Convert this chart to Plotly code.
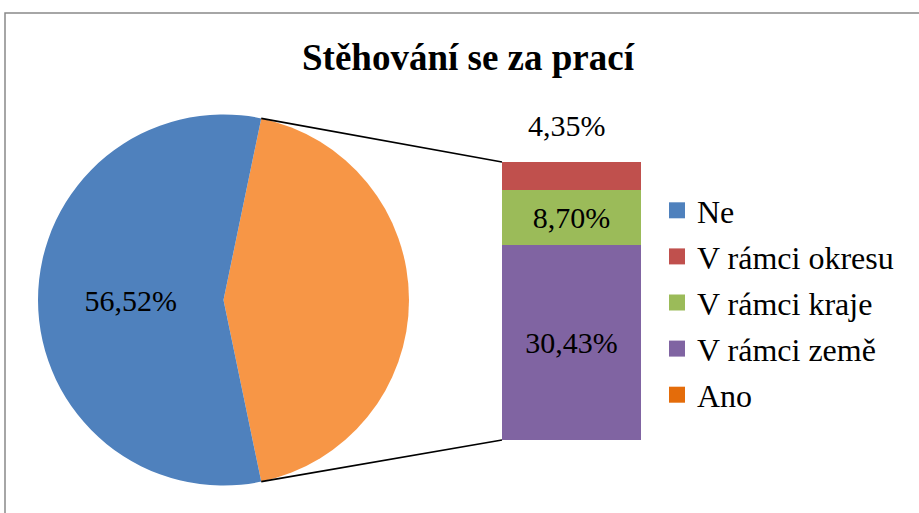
import math
import plotly.graph_objects as go

# ---- data ----
pie_labels = ["Ano", "Ne"]
pie_values = [43.48, 56.52]
bar_labels = ["V rámci země", "V rámci kraje", "V rámci okresu"]
bar_values = [30.43, 8.70, 4.35]
legend_order = ["Ne", "V rámci okresu", "V rámci kraje", "V rámci země", "Ano"]
title_text = "Stěhování se za prací"

pie_colors = {"Ano": "#F79646", "Ne": "#4F81BD"}
bar_colors = {"V rámci země": "#8064A2", "V rámci kraje": "#9BBB59", "V rámci okresu": "#C0504D"}
legend_colors = {"Ne": "#4F81BD", "V rámci okresu": "#C0504D", "V rámci kraje": "#9BBB59",
                 "V rámci země": "#8064A2", "Ano": "#E46C0A"}

def fmt(v):
    return f"{v:.2f}".replace(".", ",") + "%"

W, H = 919, 513
FONT = "Liberation Serif"

def px(x):
    return x / W

def py(y):
    return 1 - y / H

# geometry (pixels)
pie_x0, pie_x1, pie_y0, pie_y1 = 38, 409, 113, 487
bar_x0, bar_x1, bar_top, bar_bot = 502, 641, 162, 440

total = sum(pie_values)
ano = pie_values[0]
ano_deg = 360 * ano / total
rotation = 90 - ano_deg / 2

fig = go.Figure()

fig.add_trace(go.Pie(
    labels=pie_labels, values=pie_values, sort=False, direction="clockwise",
    rotation=rotation,
    marker=dict(colors=[pie_colors[l] for l in pie_labels], line=dict(width=0)),
    text=["", fmt(pie_values[1])], texttemplate="%{text}", textinfo="text",
    textposition="inside", insidetextorientation="horizontal",
    textfont=dict(family=FONT, size=30, color="black"),
    domain=dict(x=[px(pie_x0), px(pie_x1)], y=[py(pie_y1), py(pie_y0)]),
    showlegend=False, hoverinfo="label+percent",
))

for lab, val in zip(bar_labels, bar_values):
    show_text = lab != "V rámci okresu"
    fig.add_trace(go.Bar(
        x=[0], y=[val], name=lab, width=[1],
        marker=dict(color=bar_colors[lab], line=dict(width=0)),
        text=[fmt(val) if show_text else ""], textposition="inside",
        insidetextanchor="middle",
        textfont=dict(family=FONT, size=30, color="black"),
        showlegend=False,
    ))

# top label above bar
fig.add_annotation(x=0, y=sum(bar_values), xref="x", yref="y", text=fmt(bar_values[2]),
                   showarrow=False, yanchor="bottom", yshift=18, xshift=-5,
                   font=dict(family=FONT, size=30, color="black"))

# legend entries
for i, lab in enumerate(legend_order):
    fig.add_trace(go.Scatter(
        x=[None], y=[None], mode="markers", name=lab, legendgroup=f"g{i}",
        marker=dict(symbol="square", size=16, color=legend_colors[lab]),
        showlegend=True,
    ))

# connector lines, computed from pie geometry and ano share
cx = (pie_x0 + pie_x1) / 2
cy = (pie_y0 + pie_y1) / 2
r = min(pie_x1 - pie_x0, pie_y1 - pie_y0) / 2
a1 = math.radians(rotation)
a2 = math.radians(rotation + ano_deg)
p1 = (cx + r * math.sin(a1), cy - r * math.cos(a1))
p2 = (cx + r * math.sin(a2), cy - r * math.cos(a2))
for (qx, qy), by in [(p1, bar_top), (p2, bar_bot)]:
    fig.add_shape(type="line", xref="paper", yref="paper",
                  x0=px(qx), y0=py(qy), x1=px(bar_x0), y1=py(by),
                  line=dict(color="black", width=1.6))

# chart border
fig.add_shape(type="rect", xref="paper", yref="paper",
              x0=px(5), y0=-0.05, x1=1.05, y1=py(13),
              line=dict(color="#898989", width=1.5), fillcolor="rgba(0,0,0,0)", layer="below")

fig.update_layout(
    width=W, height=H,
    margin=dict(l=0, r=0, t=0, b=0, autoexpand=False),
    paper_bgcolor="white", plot_bgcolor="rgba(0,0,0,0)",
    font=dict(family=FONT, color="black"),
    barmode="stack", bargap=0,
    title=dict(text="<b>" + title_text + "</b>", x=px(468), xanchor="center", y=py(57), yanchor="middle",
               yref="container",
               font=dict(family=FONT, size=37, color="black")),
    xaxis=dict(domain=[px(bar_x0), px(bar_x1)], range=[-0.5, 0.5], visible=False, fixedrange=True),
    yaxis=dict(domain=[py(bar_bot), py(bar_top)], range=[0, sum(bar_values)],
               visible=False, fixedrange=True),
    legend=dict(x=px(657), xanchor="left", y=py(183), yanchor="top",
                font=dict(family=FONT, size=32, color="black"),
                tracegroupgap=1.5, bgcolor="rgba(0,0,0,0)", itemclick=False),
    showlegend=True,
)

fig.write_html("out.html", config={"displayModeBar": False},
               post_script="document.body.style.margin='0px';")
